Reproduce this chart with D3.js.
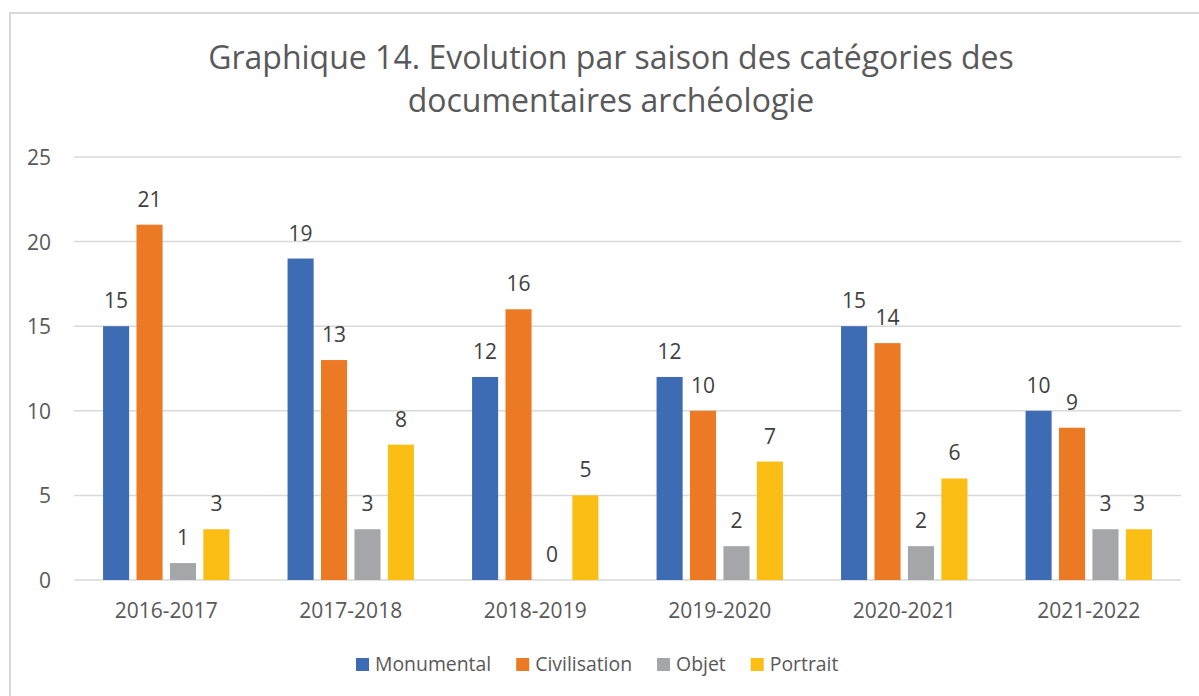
<!DOCTYPE html>
<html><head><meta charset="utf-8">
<script src="https://cdn.jsdelivr.net/npm/d3@7"></script>
<style>
html,body{margin:0;padding:0;background:#fff;}
svg{display:block;}
text{font-family:"Open Sans",Lato,sans-serif;}
</style></head>
<body>
<svg id="c" width="1199" height="696"></svg>
<script>
const categories = ["2016-2017","2017-2018","2018-2019","2019-2020","2020-2021","2021-2022"];
const seriesNames = ["Monumental","Civilisation","Objet","Portrait"];
const monumental = [15,19,12,12,15,10];
const civilisation = [21,13,16,10,14,9];
const objet = [1,3,0,2,2,3];
const portrait = [3,8,5,7,6,3];
const yTicks = [0,5,10,15,20,25];
const titleLines = ["Graphique 14. Evolution par saison des catégories des","documentaires archéologie"];
const colors = ["#3E6CB4","#EC7A25","#A5A6A9","#FBBE15"];

const seriesValues = [monumental, civilisation, objet, portrait];
const svg = d3.select("#c");

// chart border
svg.append("rect").attr("x",10).attr("y",13).attr("width",1200).attr("height",700)
  .attr("fill","#fff").attr("stroke","#d9d9d9").attr("stroke-width",2);

const plot = {left:74,right:1181,top:157,bottom:580};
const x0 = d3.scaleBand().domain(categories).range([plot.left,plot.right]).paddingInner(0.315).paddingOuter(0.1575);
const x1 = d3.scaleBand().domain(seriesNames).range([0,x0.bandwidth()]).paddingInner(0.22);
const y = d3.scaleLinear().domain([0,25]).range([plot.bottom,plot.top]);

// gridlines
svg.append("g").selectAll("line").data(yTicks).join("line")
  .attr("x1",plot.left).attr("x2",plot.right)
  .attr("y1",d=>y(d)).attr("y2",d=>y(d))
  .attr("stroke","#d9d9d9").attr("stroke-width",1.5);

const fs = 21;
// y labels
svg.append("g").selectAll("text").data(yTicks).join("text")
  .attr("x",51).attr("y",d=>y(d)+8).attr("text-anchor","end")
  .attr("font-size",fs).attr("fill","#595959").text(d=>d);

// x labels
svg.append("g").selectAll("text").data(categories).join("text")
  .attr("x",d=>x0(d)+x0.bandwidth()/2).attr("y",618).attr("text-anchor","middle")
  .attr("font-size",fs).attr("fill","#595959").text(d=>d);

// bars
const data = [];
categories.forEach((c,i)=>seriesNames.forEach((s,j)=>data.push({c,s,j,v:seriesValues[j][i]})));
const g = svg.append("g");
g.selectAll("rect").data(data).join("rect")
  .attr("x",d=>x0(d.c)+x1(d.s)).attr("width",x1.bandwidth())
  .attr("y",d=>y(d.v)).attr("height",d=>y(0)-y(d.v))
  .attr("fill",d=>colors[d.j]);
g.selectAll("text").data(data).join("text")
  .attr("x",d=>x0(d.c)+x1(d.s)+x1.bandwidth()/2).attr("y",d=>y(d.v)-18)
  .attr("text-anchor","middle").attr("font-size",fs).attr("fill","#404040").text(d=>d.v);

// title
svg.append("g").selectAll("text").data(titleLines).join("text")
  .attr("x",611).attr("y",(d,i)=>69+i*43).attr("text-anchor","middle")
  .attr("font-size",32).attr("fill","#595959").text(d=>d);

// legend
const leg = svg.append("g");
let lx = 356;
seriesNames.forEach((s,j)=>{
  leg.append("rect").attr("x",lx).attr("y",658).attr("width",13).attr("height",13).attr("fill",colors[j]);
  const t = leg.append("text").attr("x",lx+19).attr("y",671).attr("font-size",19.4).attr("fill","#595959").text(s);
  lx += 19 + t.node().getComputedTextLength() + 25;
});
</script>
</body></html>
